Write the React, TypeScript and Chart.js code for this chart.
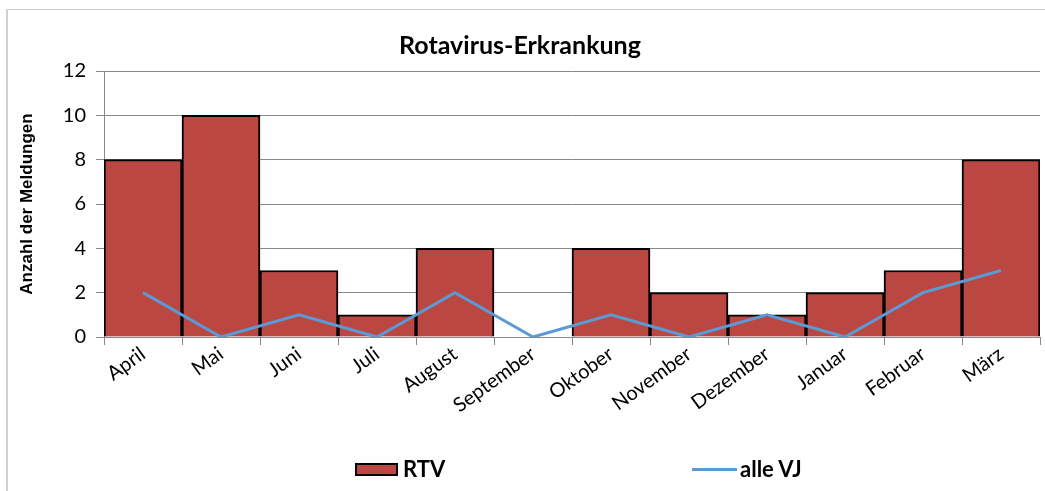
import React, { useEffect, useRef } from "react";
import { Chart, registerables } from "chart.js";

Chart.register(...registerables);

const categories = ["April", "Mai", "Juni", "Juli", "August", "September", "Oktober", "November", "Dezember", "Januar", "Februar", "März"];
const rtvValues = [8, 10, 3, 1, 4, 0, 4, 2, 1, 2, 3, 8];
const alleVJValues = [2, 0, 1, 0, 2, 0, 1, 0, 1, 0, 2, 3];
const yTicks = [0, 2, 4, 6, 8, 10, 12];

const BAR_COLOR = "#BB4743";
const LINE_COLOR = "#5B9BD5";
const FONT = "Lato, 'Open Sans', sans-serif";

export default function App() {
  const ref = useRef<HTMLCanvasElement | null>(null);

  useEffect(() => {
    if (!ref.current) return;
    const chart = new Chart(ref.current, {
      type: "bar",
      data: {
        labels: categories,
        datasets: [
          {
            type: "line",
            label: "alle VJ",
            data: alleVJValues,
            borderColor: LINE_COLOR,
            backgroundColor: LINE_COLOR,
            borderWidth: 3,
            pointRadius: 0,
            tension: 0,
            order: 0,
          },
          {
            type: "bar",
            label: "RTV",
            data: rtvValues,
            backgroundColor: BAR_COLOR,
            borderColor: "#000000",
            borderWidth: 2,
            categoryPercentage: 1,
            barPercentage: 1,
            order: 1,
          },
        ],
      },
      options: {
        animation: false,
        responsive: false,
        maintainAspectRatio: false,
        layout: { padding: { left: 0, right: 5, top: 0, bottom: 0 } },
        plugins: {
          legend: { display: false },
          tooltip: { enabled: false },
          title: {
            display: true,
            text: "Rotavirus-Erkrankung",
            color: "#000",
            font: { family: FONT, size: 25, weight: "bold" },
            padding: { top: 31, bottom: 10 },
          },
        },
        scales: {
          x: {
            offset: true,
            grid: {
              offset: true,
              drawOnChartArea: false,
              drawTicks: true,
              tickLength: 8,
              color: "#888888",
            },
            border: { display: true, color: "#888888" },
            ticks: {
              color: "#000",
              font: { family: FONT, size: 20 },
              maxRotation: 36,
              minRotation: 36,
              padding: -3,
              autoSkip: false,
            },
            afterFit: (scale: any) => {
              scale.height = 154;
            },
          },
          y: {
            min: 0,
            max: 12,
            afterBuildTicks: (scale: any) => {
              scale.ticks = yTicks.map((v) => ({ value: v }));
            },
            grid: { color: "#888888", tickLength: 8 },
            border: { display: true, color: "#888888" },
            ticks: {
              color: "#000",
              font: { family: FONT, size: 20 },
              padding: 10,
            },
            title: {
              display: true,
              text: "Anzahl der Meldungen",
              color: "#000",
              font: { family: "'Liberation Sans', Arial, sans-serif", size: 17, weight: "bold" },
              padding: { top: 17, bottom: 0 },
            },
            afterFit: (scale: any) => {
              scale.width = 104;
            },
          },
        },
      },
    });
    return () => chart.destroy();
  }, []);

  const legendText: React.CSSProperties = {
    position: "absolute",
    fontFamily: FONT,
    fontWeight: "bold",
    fontSize: 22,
    color: "#000",
    top: 456,
    lineHeight: "26px",
  };

  return (
    <div style={{ position: "absolute", left: 0, top: 0, width: 1045, height: 491, background: "#fff", overflow: "hidden" }}>
      <div style={{ position: "absolute", left: 7, top: 9, width: 1045, height: 1, background: "#d0d0d0" }} />
      <div style={{ position: "absolute", left: 6, top: 9, width: 2, height: 491, background: "#d0d0d0" }} />
      <canvas ref={ref} width={1045} height={491} style={{ position: "absolute", left: 0, top: 0, width: 1045, height: 491 }} />
      <div style={{ position: "absolute", left: 355, top: 463, width: 43, height: 13, background: BAR_COLOR, border: "2px solid #000", boxSizing: "border-box" }} />
      <div style={{ ...legendText, left: 403 }}>RTV</div>
      <div style={{ position: "absolute", left: 692, top: 468, width: 45, height: 3, background: LINE_COLOR }} />
      <div style={{ ...legendText, left: 740 }}>alle VJ</div>
    </div>
  );
}
